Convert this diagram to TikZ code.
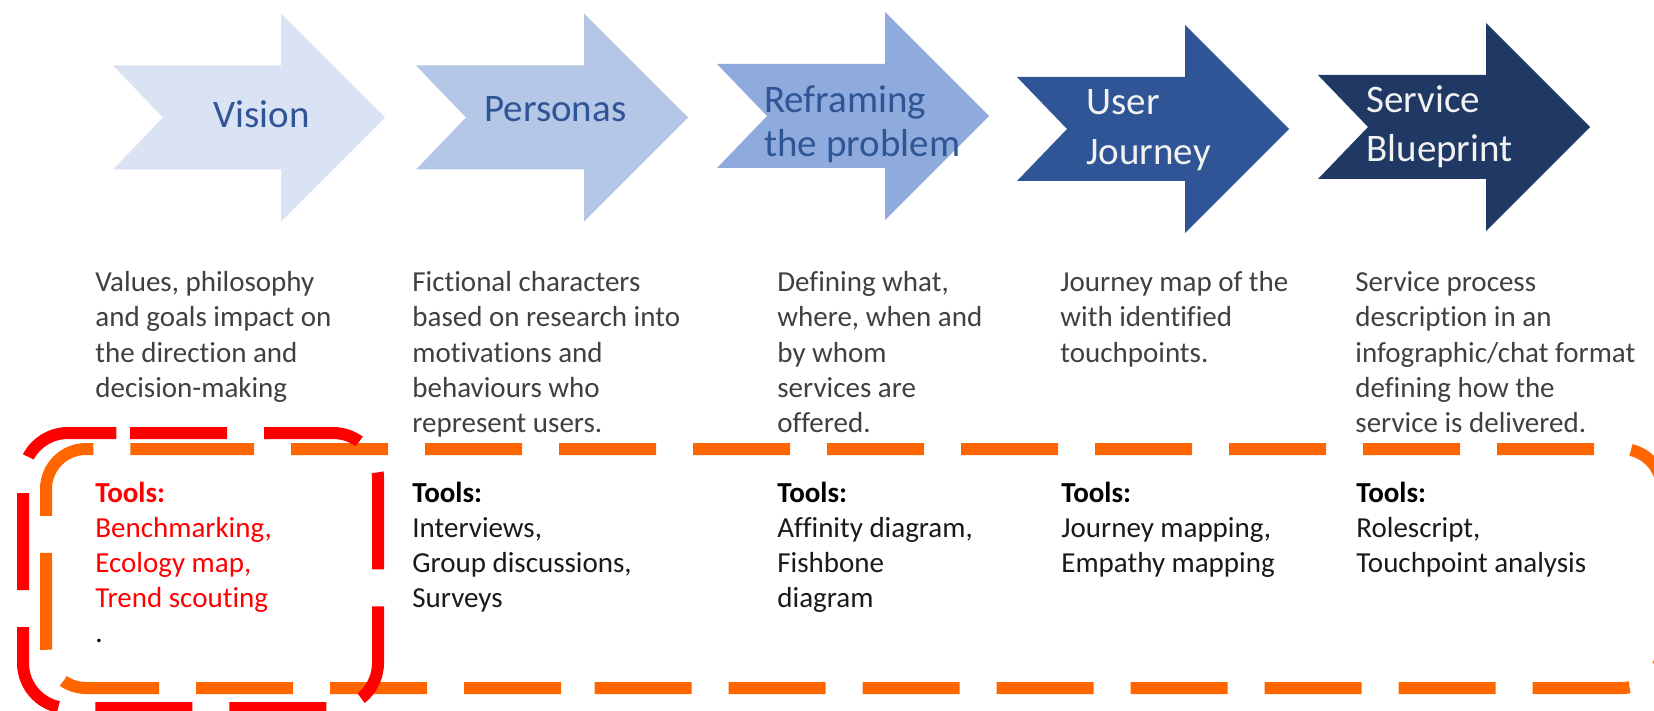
\documentclass[tikz,border=0pt]{standalone}
\usepackage{fontspec}
\setmainfont{Carlito}[Ligatures=NoCommon]
\definecolor{aone}{HTML}{DAE3F3}
\definecolor{atwo}{HTML}{B4C7E7}
\definecolor{athree}{HTML}{8FAADC}
\definecolor{afour}{HTML}{2F5597}
\definecolor{afive}{HTML}{203864}
\definecolor{lbldark}{HTML}{2F5597}
\definecolor{lbllight}{HTML}{F2F2F2}
\definecolor{descgray}{HTML}{404040}
\definecolor{toolgray}{HTML}{1A1A1A}
\definecolor{boxorange}{HTML}{FF6600}
\definecolor{boxred}{HTML}{FF0000}
\tikzset{
  lbl/.style={anchor=base west, inner sep=0pt, font={\fontsize{19.5pt}{24pt}\selectfont}},
  desc/.style={anchor=base west, inner sep=0pt, font={\fontsize{14.5pt}{17.5pt}\selectfont}, text=descgray},
  toolhead/.style={anchor=base west, inner sep=0pt, font={\fontsize{14.5pt}{17.5pt}\selectfont\bfseries}, text=black},
  toolitem/.style={anchor=base west, inner sep=0pt, font={\fontsize{14.5pt}{17.5pt}\selectfont}, text=toolgray},
  dashbox/.style={line width=6pt, dash pattern=on 48.5pt off 18.5pt},
}
\begin{document}
\begin{tikzpicture}[x=0.5pt,y=-0.5pt]
\clip (0,0) rectangle (1654,711);
\fill[white] (0,0) rectangle (1654,711);
% arrows
\foreach \L/\C/\col in {113/117.5/aone, 416/117.5/atwo, 717/116/athree, 1017/129/afour, 1318/127/afive}{
  \fill[fill=\col] ({\L},{\C-52}) -- ++(168,0) -- ++(0,-52) -- ++(104,104) -- ++(-104,104)
    -- ++(0,-52) -- ++(-168,0) -- ++(50,-52) -- cycle;
}
% arrow labels
\node[lbl, text=lbldark] (vision) at (213,128) {Vision};
\node[lbl, text=lbldark] (personas) at (484,122) {Personas};
\node[lbl, text=lbldark] (refr1) at (764,113) {Reframing};
\node[lbl, text=lbldark] (refr2) at (764,157) {the problem};
\node[lbl, text=lbllight] (uj1) at (1086,115) {User};
\node[lbl, text=lbllight] (uj2) at (1086,165) {Journey};
\node[lbl, text=lbllight] (sb1) at (1366,113) {Service};
\node[lbl, text=lbllight] (sb2) at (1366,162) {Blueprint};
% descriptions
\foreach \t [count=\i] in {{Values, philosophy},{and goals impact on},{the direction and},{decision-making}}
  \node[desc] (da-\i) at (95,{292+35*(\i-1)}) {\t};
\foreach \t [count=\i] in {{Fictional characters},{based on research into},{motivations and},{behaviours who},{represent users.}}
  \node[desc] (db-\i) at (412,{292+35*(\i-1)}) {\t};
\foreach \t [count=\i] in {{Defining what,},{where, when and},{by whom},{services are},{offered.}}
  \node[desc] (dc-\i) at (777,{292+35*(\i-1)}) {\t};
\foreach \t [count=\i] in {{Journey map of the},{with identified},{touchpoints.}}
  \node[desc] (dd-\i) at (1060,{292+35*(\i-1)}) {\t};
\foreach \t [count=\i] in {{Service process},{description in an},{infographic/chat format},{defining how the},{service is delivered.}}
  \node[desc] (de-\i) at (1355,{292+35*(\i-1)}) {\t};
% tools
\node[toolhead, text=boxred] (ta-0) at (95,502) {Tools:};
\foreach \t [count=\i] in {{Benchmarking,},{Ecology map,},{Trend scouting}}
  \node[toolitem, text=boxred] (ta-\i) at (95,{502+35*\i}) {\t};
\node[toolitem, text=black] (ta-dot) at (95,642) {.};
\node[toolhead] (tb-0) at (412,502) {Tools:};
\foreach \t [count=\i] in {{Interviews,},{Group discussions,},{Surveys}}
  \node[toolitem] (tb-\i) at (412,{502+35*\i}) {\t};
\node[toolhead] (tc-0) at (777,502) {Tools:};
\foreach \t [count=\i] in {{Affinity diagram,},{Fishbone},{diagram}}
  \node[toolitem] (tc-\i) at (777,{502+35*\i}) {\t};
\node[toolhead] (td-0) at (1061,502) {Tools:};
\foreach \t [count=\i] in {{Journey mapping,},{Empathy mapping}}
  \node[toolitem] (td-\i) at (1061,{502+35*\i}) {\t};
\node[toolhead] (te-0) at (1356,502) {Tools:};
\foreach \t [count=\i] in {{Rolescript,},{Touchpoint analysis}}
  \node[toolitem] (te-\i) at (1356,{502+35*\i}) {\t};
% orange dashed box
\draw[dashbox, draw=boxorange, rounded corners=20pt] (157,449) -- (1662,449) -- (1662,688) -- (561,688);
\draw[dashbox, draw=boxorange, rounded corners=20pt] (561,688) -- (46,688) -- (46,449) -- (157,449);
% red dashed box
\draw[dashbox, draw=boxred, rounded corners=22.5pt] (130,433) -- (378,433) -- (378,708) -- (23,708) -- (23,433) -- (130,433);
\end{tikzpicture}
\end{document}
